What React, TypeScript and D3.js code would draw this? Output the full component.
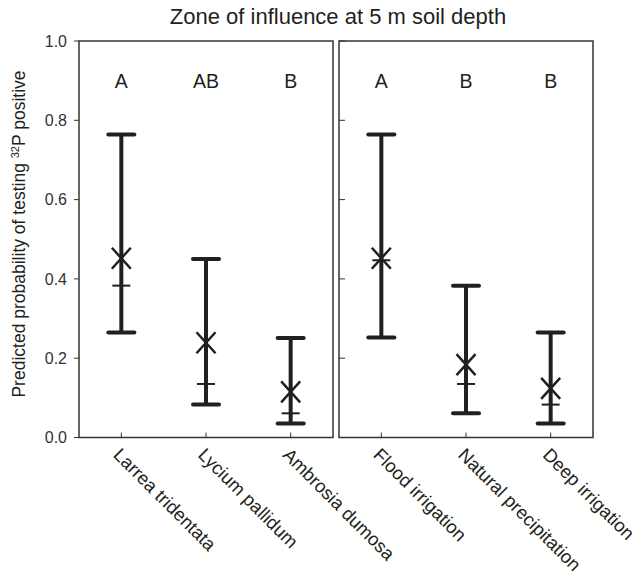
import React from 'react';
import * as d3 from 'd3';

// left panel: shrub species, right panel: irrigation treatment
const species = ['Larrea tridentata', 'Lycium pallidum', 'Ambrosia dumosa'];
const treatments = ['Flood irrigation', 'Natural precipitation', 'Deep irrigation'];

// values
const speciesMean = [0.452, 0.239, 0.115];
const speciesMid = [0.383, 0.135, 0.061];
const speciesUpper = [0.764, 0.45, 0.251];
const speciesLower = [0.265, 0.083, 0.035];
const speciesLetters = ['A', 'AB', 'B'];

const treatMean = [0.452, 0.184, 0.124];
const treatMid = [0.447, 0.135, 0.083];
const treatUpper = [0.764, 0.383, 0.265];
const treatLower = [0.252, 0.061, 0.035];
const treatLetters = ['A', 'B', 'B'];

const yTicks = [0, 0.2, 0.4, 0.6, 0.8, 1.0];

const font = '"Liberation Sans", Arial, Helvetica, sans-serif';
const ink = '#231f20';

const top = 41;
const bottom = 437.5;

const y = d3.scaleLinear().domain([0, 1]).range([bottom, top]);

function Panel(props: {
  x0: number; x1: number; cats: string[]; mean: number[]; mid: number[];
  upper: number[]; lower: number[]; letters: string[]; outerAxis: boolean;
}) {
  const { x0, x1, cats, mean, mid, upper, lower, letters, outerAxis } = props;
  const x = d3.scaleBand().domain(cats).range([x0, x1]);
  const cx = (c: string) => (x(c) as number) + x.bandwidth() / 2;

  return (
    <g>
      <rect x={x0} y={top} width={x1 - x0} height={bottom - top} fill="none" stroke="#333" strokeWidth={1.5} />
      {yTicks.map(t => (
        outerAxis
          ? <line key={t} x1={x0 - 5} x2={x0} y1={y(t)} y2={y(t)} stroke="#333" strokeWidth={1} />
          : <line key={t} x1={x0} x2={x0 + 6} y1={y(t)} y2={y(t)} stroke="#333" strokeWidth={1} />
      ))}
      {outerAxis && yTicks.map(t => (
        <text key={'l' + t} x={67} y={y(t)} dy="0.35em" textAnchor="end" fontSize={16} fill="#333" fontFamily={font}>
          {t.toFixed(1)}
        </text>
      ))}
      {cats.map((c, i) => {
        const px = cx(c);
        const h = 10.5, w = 9.5;
        const m = y(mean[i]);
        return (
          <g key={c}>
            <line x1={px} x2={px} y1={bottom - 5} y2={bottom} stroke="#333" strokeWidth={1} />
            <line x1={px} x2={px} y1={y(upper[i])} y2={y(lower[i])} stroke={ink} strokeWidth={4} />
            <line x1={px - 13} x2={px + 13} y1={y(upper[i])} y2={y(upper[i])} stroke={ink} strokeWidth={4} strokeLinecap="round" />
            <line x1={px - 13} x2={px + 13} y1={y(lower[i])} y2={y(lower[i])} stroke={ink} strokeWidth={4} strokeLinecap="round" />
            <line x1={px - 9} x2={px + 9} y1={y(mid[i])} y2={y(mid[i])} stroke={ink} strokeWidth={2} />
            <path d={`M${px - w},${m - h}L${px + w},${m + h}M${px - w},${m + h}L${px + w},${m - h}`} stroke={ink} strokeWidth={2.5} fill="none" />
            <text x={px} y={88} textAnchor="middle" fontSize={19.5} fill={ink} fontFamily={font}>{letters[i]}</text>
            <text transform={`translate(${px - 9},${456}) rotate(45)`} fontSize={18.5} fill={ink} fontFamily={font}>{c}</text>
          </g>
        );
      })}
    </g>
  );
}

export default function App() {
  return (
    <svg width={639} height={579} style={{ position: 'absolute', left: 0, top: 0, background: 'white' }}>
      <text x={338} y={24} textAnchor="middle" fontSize={22} fill={ink} fontFamily={font}>
        Zone of influence at 5 m soil depth
      </text>
      <text transform={`translate(25,234) rotate(-90)`} textAnchor="middle" fontSize={17.5} fill={ink} fontFamily={font}>
        Predicted probability of testing <tspan baselineShift="super" fontSize={11}>32</tspan>P positive
      </text>
      <Panel x0={79} x1={333} cats={species} mean={speciesMean} mid={speciesMid} upper={speciesUpper}
        lower={speciesLower} letters={speciesLetters} outerAxis={true} />
      <Panel x0={339} x1={593} cats={treatments} mean={treatMean} mid={treatMid} upper={treatUpper}
        lower={treatLower} letters={treatLetters} outerAxis={false} />
    </svg>
  );
}
